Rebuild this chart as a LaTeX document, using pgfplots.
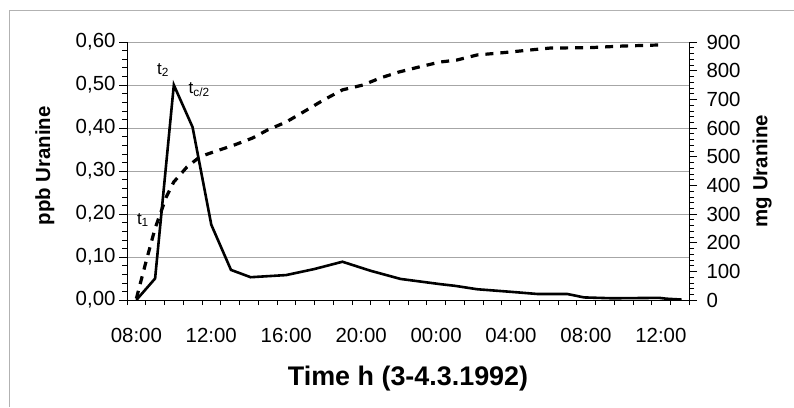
\documentclass[border=0pt]{standalone}
\usepackage{pgfplots}
\pgfplotsset{compat=1.18}
\usepackage{fontspec}
\setmainfont{Liberation Sans}

\begin{document}
\begin{tikzpicture}[x=1bp,y=1bp]
\path[use as bounding box] (0,0) rectangle (794,407);
\draw[gray!60, line width=0.6bp] (9,0) -- (9,397) -- (794,397);

\pgfplotsset{
  common/.style={
    at={(127bp,107bp)}, anchor=south west,
    scale only axis, width=562bp, height=258bp,
    xmin=7.5, xmax=37.5,
    ticklabel style={font=\fontsize{20.5}{24}\selectfont},
    tick align=outside,
    major tick length=8bp, minor tick length=5bp,
    every tick/.style={black, line width=0.6bp},
    axis line style={line width=0.8bp},
    /pgf/number format/assume math mode=true,
  },
}

% ppb Uranine (left axis)
\begin{axis}[common,
  ymin=0, ymax=0.6,
  axis x line*=bottom, axis y line*=left,
  xtick={8,12,16,20,24,28,32,36},
  xticklabels={08:00,12:00,16:00,20:00,00:00,04:00,08:00,12:00},
  major x tick style={draw=none},
  minor xtick={7.5,8.5,...,37.5},
  xticklabel style={anchor=base, yshift=-34bp},
  ytick={0,0.1,0.2,0.3,0.4,0.5,0.6},
  minor y tick num=4,
  ymajorgrids, major grid style={gray!70, line width=0.6bp},
  yticklabel style={/pgf/number format/.cd, use comma, fixed, fixed zerofill, precision=2},
  xlabel={\bfseries\fontsize{27}{30}\selectfont Time h (3-4.3.1992)},
  xlabel style={at={(axis description cs:0.5,-0.33)}, anchor=base},
  ylabel={\bfseries\fontsize{20.5}{24}\selectfont ppb Uranine},
  ylabel style={at={(axis description cs:-0.146,0.52)}, anchor=center},
]
\addplot[black, line width=2.6bp, mark=none] coordinates {
  (8.0,0.000) (9.0,0.050) (10.0,0.500) (11.0,0.402) (12.0,0.175)
  (13.05,0.070) (14.1,0.053) (16.0,0.058) (17.5,0.072) (19.0,0.089)
  (20.5,0.068) (22.1,0.049) (24.2,0.037) (25.0,0.033) (26.2,0.025)
  (28.0,0.019) (29.4,0.014) (31.0,0.014) (31.9,0.006) (33.4,0.004)
  (35.9,0.005) (36.3,0.003) (37.1,0.001)
};
\node[font=\fontsize{17}{19}\selectfont] at (axis cs:9.42,0.535) {t\textsubscript{2}};
\node[font=\fontsize{17}{19}\selectfont] at (axis cs:11.35,0.49) {t\textsubscript{c/2}};
\node[font=\fontsize{17}{19}\selectfont] at (axis cs:8.35,0.186) {t\textsubscript{1}};
\end{axis}

% mg Uranine (right axis)
\begin{axis}[common,
  ymin=0, ymax=900,
  axis x line=none, axis y line*=right,
  ytick={0,100,200,300,400,500,600,700,800,900},
  minor y tick num=4,
  yticklabel style={xshift=6bp},
  ylabel={\bfseries\fontsize{20.5}{24}\selectfont mg Uranine},
  ylabel style={at={(axis description cs:1.13,0.5)}, anchor=center},
]
\addplot[black, line width=3.2bp, dash pattern=on 8bp off 7bp, mark=none] coordinates {
  (8.0,5) (8.5,130) (9.0,250) (9.6,360) (10.0,412) (10.7,464) (11.4,500)
  (12.1,516) (13.2,540) (14.2,565) (15.0,593) (16.0,621) (17.1,663)
  (18.0,698) (19.0,733) (20.1,750) (21.0,774) (22.0,795) (23.1,813)
  (24.2,830) (25.1,837) (26.2,855) (27.3,861) (29.0,872) (30.1,879)
  (32.1,880) (34.0,886) (36.1,890)
};
\end{axis}
\end{tikzpicture}
\end{document}
